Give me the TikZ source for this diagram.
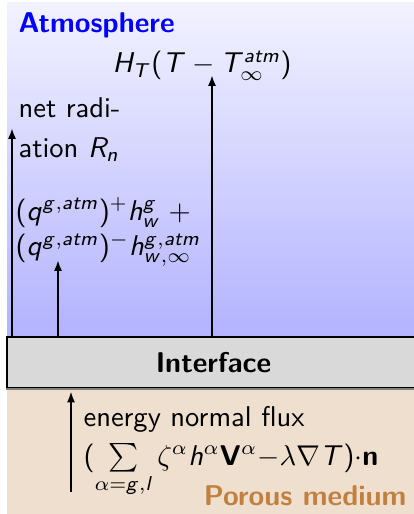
\documentclass[tikz,border=0pt]{standalone}
\usepackage{amsmath,amssymb}
\usetikzlibrary{positioning,arrows.meta}
\renewcommand{\familydefault}{\sfdefault}
% sans serif math letters, as on slides
\DeclareSymbolFont{sfletters}{OT1}{cmss}{m}{sl}
\SetSymbolFont{operators}{normal}{OT1}{cmss}{m}{n}
\DeclareMathAlphabet{\mathbf}{OT1}{cmss}{bx}{n}
\makeatletter
\count@=97
\loop\Umathcode\count@=7 \symsfletters \count@
  \advance\count@ by 1 \ifnum\count@<123 \repeat
\count@=65
\loop\Umathcode\count@=7 \symsfletters \count@
  \advance\count@ by 1 \ifnum\count@<91 \repeat
\makeatother

\begin{document}
\begin{tikzpicture}[x=0.35pt, y=0.35pt, font=\sffamily,
  flux/.style={-{Latex[length=3.8pt,width=2.8pt]}, line width=0.7pt}]
  \useasboundingbox (0,0) rectangle (414,514);
  % Regions
  \fill[top color=blue!5, bottom color=blue!30] (7,177) rectangle (414,511);
  \fill[brown!25] (7,0) rectangle (414,126);
  \node[draw, fill=gray!30, minimum width=144.55pt, minimum height=17.85pt,
        inner sep=0pt, font=\bfseries] (interface) at (213.5,151.5) {Interface};
  \draw[gray, line width=0.7pt] (interface.south west) -- (interface.south east);
  % Labels
  \node[anchor=base west, inner sep=0pt, text=blue, font=\bfseries] (atm) at (18,481) {Atmosphere};
  \node[anchor=base west, inner sep=0pt] (lblHT) at (112,441) {$H_T(T - T_\infty^{atm})$};
  \node[anchor=north west, inner sep=0pt, align=left] (lblRad) at (18,417) {net radi-\\[2pt]ation $R_n$};
  \node[anchor=north west, inner sep=0pt, align=left] (lblQ) at (15,317)
    {$(q^{g,atm})^+ h^g_w\;+$\\[0.5pt]$(q^{g,atm})^- h^{g,atm}_{w,\infty}$};
  \node[anchor=base west, inner sep=0pt] (lblFlux) at (83,87) {energy normal flux};
  \node[anchor=base west, inner sep=0pt] (lblFluxEq) at (83,49)
    {$(\sum\limits_{\alpha=g,l}\zeta^\alpha h^\alpha\mathbf{V}^\alpha{-}\lambda\nabla T){\cdot}\mathbf{n}$};
  \node[anchor=base east, inner sep=0pt, text=brown, font=\bfseries] (porous) at (407,9) {Porous medium};
  % Arrows
  \coordinate (radTip) at (12,386);
  \coordinate (qTip) at (58,254);
  \coordinate (htTip) at (212,439);
  \coordinate (fluxTail) at (71,22);
  \draw[flux] (interface.north -| radTip) -- (radTip);
  \draw[flux] (interface.north -| qTip) -- (qTip);
  \draw[flux] (interface.north -| htTip) -- (htTip);
  \draw[flux, shorten >=1pt] (fluxTail) -- (fluxTail |- interface.south);
\end{tikzpicture}
\end{document}
